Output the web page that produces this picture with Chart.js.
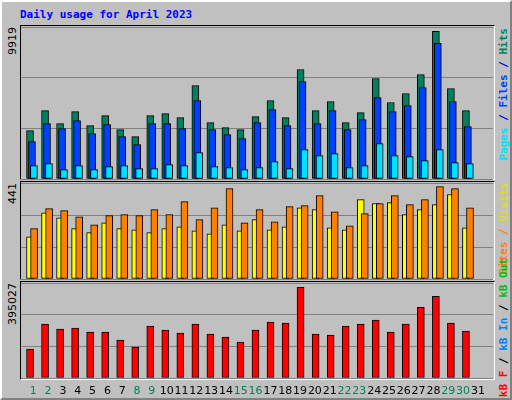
<!DOCTYPE html>
<html><head><meta charset="utf-8">
<script src="https://cdn.jsdelivr.net/npm/chart.js@4"></script>
<style>
body{margin:0;background:#fff}
#wrap{position:relative;width:512px;height:400px;background:#c0c0c0;box-sizing:border-box;border:2px solid;border-color:#fff #808080 #808080 #fff;overflow:hidden}
canvas{position:absolute;left:0;top:0}
.panel{position:absolute;left:18px;width:473px;border-top:1px solid #000;border-left:1px solid #000;border-bottom:1px solid #fff;border-right:1px solid #fff}
.t{position:absolute;font-family:"DejaVu Sans Mono",monospace;font-weight:bold;font-size:11px;white-space:nowrap}
.v{writing-mode:vertical-rl;transform:rotate(180deg)}
.yl{position:absolute;font-family:"DejaVu Sans",sans-serif;font-size:11px;writing-mode:vertical-rl;transform:rotate(180deg);color:#000}
.d{position:absolute;top:382px;font-family:"DejaVu Sans",sans-serif;font-size:11px;width:16px;text-align:center}
</style></head><body>
<div id="wrap">
<div class="t" style="left:18px;top:6px;color:#0000ff">Daily usage for April 2023</div>
<div class="panel" style="top:23px;height:153px"></div>
<div class="panel" style="top:179px;height:97px"></div>
<div class="panel" style="top:279px;height:97px"></div>
<div class="yl" style="left:4px;top:25px">9919</div>
<div class="yl" style="left:4px;top:181px">441</div>
<div class="yl" style="left:4px;top:281px">395027</div>
<div class="t v" style="left:495px;top:26px"><span style="color:#00e0ff">Pages</span><span style="color:#0000ff"> / </span><span style="color:#0040ff">Files</span><span style="color:#0000ff"> / </span><span style="color:#00805c">Hits</span></div>
<div class="t v" style="left:495px;top:180px"><span style="color:#ff8000">Sites</span><span style="color:#ff8000"> / </span><span style="color:#e0e000">Visits</span></div>
<div class="t v" style="left:495px;top:256px"><span style="color:#ff0000">kB F</span><span style="color:#000"> / </span><span style="color:#0080ff">kB In</span><span style="color:#000"> / </span><span style="color:#00c000">kB Out</span></div>
<canvas id="c1" width="512" height="400"></canvas>
<canvas id="c2" width="512" height="400"></canvas>
<canvas id="c3" width="512" height="400"></canvas>
</div>
<script>
const days=[1,2,3,4,5,6,7,8,9,10,11,12,13,14,15,16,17,18,19,20,21,22,23,24,25,26,27,28,29,30];
const dayLabels=['1','2','3','4','5','6','7','8','9','10','11','12','13','14','15','16','17','18','19','20','21','22','23','24','25','26','27','28','29','30','31'];
const weekend=[1,2,8,9,15,16,22,23,29,30];
const hits=[3254,4600,3725,4533,3590,4264,3321,2850,4264,4398,4129,6283,3792,3456,3321,4196,5273,4129,7360,4600,5206,3792,4466,6754,5139,5745,7024,9919,6081,4600];
const files=[2513,3725,3388,3927,3052,3658,2850,2311,3725,3725,3388,5273,3321,2985,2715,3792,4668,3590,6552,3725,4600,3321,3994,5475,4533,4937,6149,9111,5206,3523];
const pages=[898,1032,628,898,628,830,898,696,696,965,898,1773,830,763,628,763,1167,696,1975,1571,1705,763,898,2379,1571,1503,1234,1975,1100,1032];
const visits=[201,316,292,240,221,268,240,235,221,240,249,230,216,259,230,283,235,249,340,331,244,235,379,360,364,307,331,355,403,244];
const sites=[240,336,326,297,259,302,307,302,331,307,369,283,340,431,268,331,273,345,350,398,321,254,312,360,398,355,379,441,431,340];
const kbytes=[125889,234414,212709,217050,199686,199686,164958,134571,225732,208368,195345,234414,191004,177981,156276,208368,243096,238755,395027,191004,186663,225732,234414,251778,199686,234414,308211,355962,238755,204027];

const W=471/15; // days visible across plot width
function xs(min){return {type:'linear',min:min,max:min+W,display:false,offset:false};}
function ds(data,color,axis,order){return {data:days.map((d,i)=>({x:d,y:data[i]})),backgroundColor:color,borderColor:'#000',borderWidth:1,borderSkipped:false,barThickness:7,xAxisID:axis,grouped:false,order:order};}
function make(id,top,bottom,ymax,sets,axes){
  const scales=Object.assign({y:{min:0,max:ymax,display:true,border:{display:false},ticks:{display:false,stepSize:ymax/3},grid:{color:'#808080',drawTicks:false,lineWidth:1}}},axes);
  new Chart(document.getElementById(id),{type:'bar',data:{datasets:sets},
    options:{responsive:false,animation:false,events:[],
      layout:{padding:{left:19,right:21,top:top,bottom:400-bottom}},
      plugins:{legend:{display:false},tooltip:{enabled:false}},scales:scales}});
}
make('c1',25,177,10215,[ds(hits,'#00805c','xh',3),ds(files,'#0040ff','xf',2),ds(pages,'#00e0ff','xp',1)],
  {xh:xs(0.4),xf:xs(0.27),xp:xs(0.14)});
make('c2',181,277,458,[ds(visits,'#ffff00','xv',2),ds(sites,'#ff8000','xs',1)],
  {xv:xs(0.4),xs:xs(0.13)});
make('c3',281,376,413700,[ds(kbytes,'#ff0000','xk',1)],{xk:xs(0.4)});
const wrap=document.getElementById('wrap');
dayLabels.forEach((l,i)=>{const s=document.createElement('div');s.className='d';s.textContent=l;
  s.style.left=(33.3+i*14.82-8-2)+'px';s.style.color=weekend.includes(+l)?'#00805c':'#000';wrap.appendChild(s);});
</script>
</body></html>
